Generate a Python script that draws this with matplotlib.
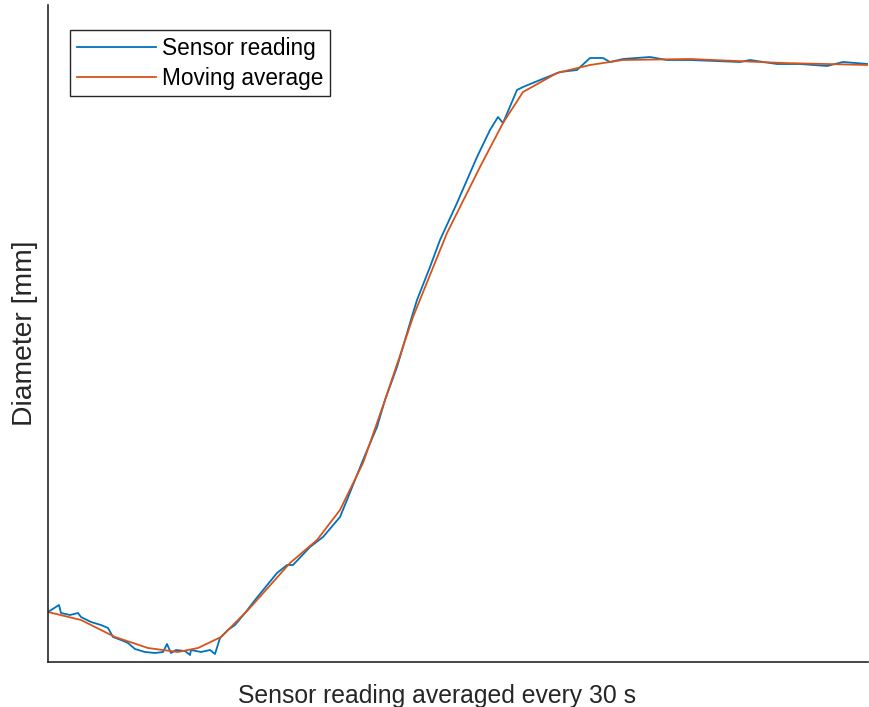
import numpy as np
import matplotlib
matplotlib.use("Agg")
import matplotlib.pyplot as plt

# sensor reading (sample index, diameter in arbitrary units)
raw_x = [0, 11, 13, 22, 30, 33, 43, 53, 60, 65, 73, 80, 87, 97, 107, 115, 119, 123,
         128, 137, 142, 143, 153, 162, 167, 172, 180, 187, 197, 207, 229, 239,
         245, 262, 275, 292, 299, 315, 329, 337, 349, 365, 369, 382, 392, 409,
         419, 429, 442, 450, 455, 469, 475, 492, 512, 529, 542, 555, 562, 575,
         602, 619, 642, 692, 702, 729, 752, 779, 795, 820]
raw_y = [50, 57, 49, 47, 49, 45, 40, 37, 34, 25, 22, 19, 13, 10, 9, 10, 18, 9,
         12, 11, 7, 12, 10, 12, 8, 24, 32, 37, 49, 62, 89, 97,
         97, 115, 125, 145, 162, 202, 235, 262, 295, 349, 362, 395, 422, 459,
         482, 505, 532, 545, 539, 572, 575, 582, 590, 592, 604, 604, 600, 603,
         605, 602, 602, 600, 602, 598, 598, 596, 600, 598]

# moving average
avg_x = [0, 33, 67, 100, 130, 150, 173, 200, 209, 242, 269, 292, 315, 337,
         365, 399, 432, 455, 475, 509, 542, 575, 642, 735, 820]
avg_y = [50, 42, 25, 14, 10, 14, 25, 52, 62, 99, 122, 152, 199, 262,
         345, 429, 495, 539, 570, 589, 597, 602, 603, 599, 597]

fig = plt.figure(figsize=(8.69, 7.07), dpi=100)
ax = fig.add_axes([48 / 869, 45 / 707, 820 / 869, 657 / 707])

ax.plot(raw_x, raw_y, color="#0072BD", lw=1.3, label="Sensor reading")
ax.plot(avg_x, avg_y, color="#D95319", lw=1.3, label="Moving average")

ax.set_xlim(0, 820)
ax.set_ylim(0, 657)
ax.set_xticks([])
ax.set_yticks([])
for s in ["top", "right"]:
    ax.spines[s].set_visible(False)
for s in ["left", "bottom"]:
    ax.spines[s].set_color("#262626")
    ax.spines[s].set_linewidth(1.2)

ax.set_xlabel("Sensor reading averaged every 30 s", fontsize=17.8,
              family="Liberation Sans", color="#262626", labelpad=16, x=0.474)
ax.set_ylabel("Diameter [mm]", fontsize=20.3, family="Liberation Sans",
              color="#262626", labelpad=7)

leg = ax.legend(loc="upper left", bbox_to_anchor=(0.027, 0.962),
                borderaxespad=0, fancybox=False, framealpha=1,
                edgecolor="#262626", handlelength=3.5, handletextpad=0.25,
                labelspacing=0.3, borderpad=0.3,
                prop={"family": "Liberation Sans", "size": 16.3})
leg.get_frame().set_linewidth(1.0)

fig.savefig("out.png", dpi=100)
